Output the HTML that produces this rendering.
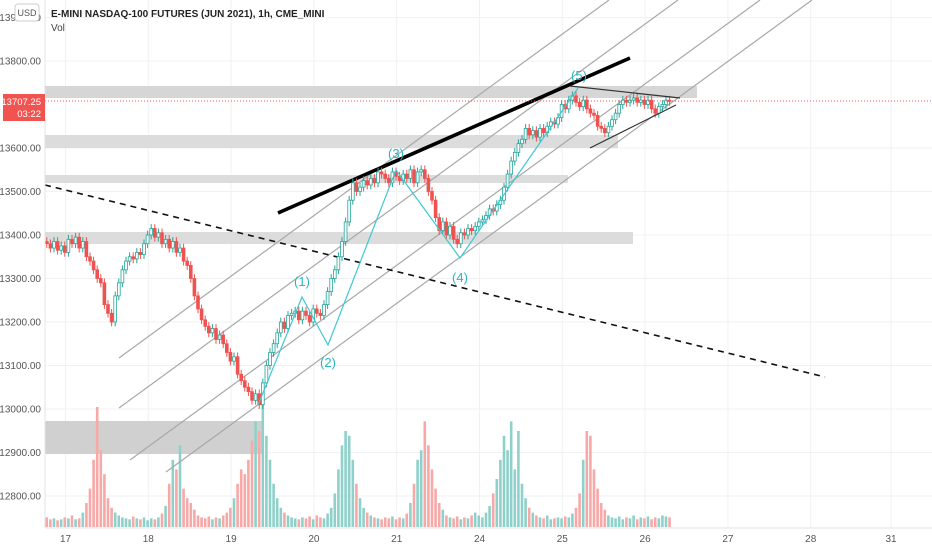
<!DOCTYPE html>
<html><head><meta charset="utf-8"><style>
html,body{margin:0;padding:0;background:#fff;}
svg{display:block;font-family:"Liberation Sans",sans-serif;}
</style></head><body>
<svg id="chart" width="932" height="550" viewBox="0 0 932 550">
<rect x="0" y="0" width="932" height="550" fill="#fff"/>
<g id="grid"></g>
<g id="zones">
<rect x="45" y="86" width="652" height="12" fill="#d6d6d6"/>
<rect x="45" y="135" width="573" height="13" fill="#dcdcdc"/>
<rect x="45" y="175" width="523" height="8" fill="#dcdcdc"/>
<rect x="45" y="232" width="588" height="12" fill="#dcdcdc"/>
<rect x="45" y="421" width="218" height="33" fill="#d0d0d0"/>
</g>
<g id="vol"></g>
<g id="channel" stroke="#a8a8a8" stroke-width="1.2">
<line x1="119" y1="358" x2="609" y2="0"/>
<line x1="119" y1="408" x2="678" y2="0"/>
<line x1="130" y1="460" x2="760" y2="0"/>
<line x1="166" y1="472" x2="812" y2="0"/>
</g>
<line x1="45" y1="185" x2="825" y2="377" stroke="#111" stroke-width="1.6" stroke-dasharray="6,5"/>
<line x1="278" y1="213" x2="630" y2="58" stroke="#000" stroke-width="3.6"/>
<g id="candles"></g>
<line x1="45" y1="101" x2="932" y2="101" stroke="#f05350" stroke-width="1" stroke-dasharray="1,2"/>
<g stroke="#333" stroke-width="1.2">
<line x1="570" y1="86" x2="680" y2="98"/>
<line x1="590" y1="148" x2="676" y2="105"/>
</g>
<polyline points="258,405 302,297 328,345 396,170 460,258 578,88" fill="none" stroke="#3cc8d4" stroke-width="1.2"/>
<g fill="#2bb5c2" font-size="13" text-anchor="middle">
<text x="302" y="286">(1)</text>
<text x="328" y="367">(2)</text>
<text x="396" y="158">(3)</text>
<text x="460" y="282">(4)</text>
<text x="579" y="80">(5)</text>
</g>
<line x1="45" y1="0" x2="45" y2="528" stroke="#e0e3eb"/>
<line x1="45" y1="528" x2="932" y2="528" stroke="#e0e3eb"/>
<g id="yticks" font-size="10" fill="#555" text-anchor="end"></g>
<g id="xticks" font-size="10" fill="#555" text-anchor="middle"></g>
<rect x="15" y="4" width="24" height="17" rx="3" fill="#fff" stroke="#ccc"/>
<text x="27" y="16" font-size="9" fill="#555" text-anchor="middle">USD</text>
<text x="51" y="17" font-size="10" font-weight="bold" fill="#222">E-MINI NASDAQ-100 FUTURES (JUN 2021), 1h, CME_MINI</text>
<text x="51" y="31" font-size="10" fill="#444">Vol</text>
<rect x="3" y="94" width="42" height="27" fill="#f05350"/>
<text x="41" y="105" font-size="9.5" fill="#fff" text-anchor="end">13707.25</text>
<text x="41" y="117" font-size="9.5" fill="#fff" text-anchor="end">03:22</text>
</svg>
<script>
const closes=[13380,13370,13385,13365,13375,13360,13390,13380,13395,
13370,13385,13350,13340,13320,13300,13290,
13240,13220,13200,
13260,13290,13320,13340,
13350,13345,13360,13355,13380,13400,13415,
13395,13405,13380,13390,13370,13385,13360,13370,13340,13330,
13300,13260,13230,13205,
13190,13175,13185,13160,13170,13150,
13130,13110,13120,13080,13065,
13050,13040,13020,13035,13010,
13060,13100,13130,13150,13175,
13200,13185,13215,13220,13225,
13205,13225,13215,13200,13230,13220,13215,
13240,13270,13300,13320,13350,13385,
13430,13480,13520,
13500,13510,13525,13515,13530,13520,13545,13540,
13530,13520,13545,13535,13525,13540,13530,13550,13520,13545,13550,
13530,13500,13480,
13440,13410,13430,13400,13420,
13390,13380,13405,
13400,13415,13410,13420,13430,13435,
13445,13460,13455,13470,13480,
13510,13540,13570,13590,13610,
13620,13645,13630,13640,13625,13645,13635,13650,
13660,13655,13670,13700,13690,13710,
13720,13705,13695,13710,13690,13680,13675,
13650,13645,
13635,13650,13665,13680,13700,13710,
13705,13710,13715,13705,13710,13700,13710,
13690,13680,13695,13700,13710,13707];
const volumes=[10,8,9,7,8,10,9,12,8,9,
15,25,40,70,125,80,55,30,20,15,
12,10,9,8,11,9,8,10,7,9,
8,10,14,22,45,70,60,85,40,30,
25,18,12,10,9,11,8,10,9,12,
15,20,30,45,60,55,70,90,110,100,
130,95,70,45,30,20,15,12,10,9,
8,10,9,11,8,12,10,9,14,20,
35,60,85,100,95,70,45,30,20,15,
12,10,9,8,10,9,11,8,10,9,
14,25,45,70,80,110,85,60,40,25,
18,12,10,9,11,8,10,9,12,15,
12,10,15,22,35,50,70,95,80,110,
60,100,45,30,20,15,12,10,9,12,
8,9,10,9,11,10,14,20,35,70,
100,95,60,40,25,18,12,10,9,11,
8,10,9,12,8,10,9,11,8,10,
9,12,11,10];
const priceTicks=[13900,13800,13600,13500,13400,13300,13200,13100,13000,12900,12800];
const dayLabels=["17","18","19","20","21","24","25","26","27","28","31"];
const dayPos=[5.2,28.2,51.2,74.2,97.2,120.2,143.2,166.2,189.2,212.2,234.5];
const NS='http://www.w3.org/2000/svg';
const yP=p=>61+(13800-p)*0.435;
const xI=i=>45+3.6*i+1.8;
const yV=v=>527-v*0.96;
function mk(tag,parent,attrs){const e=document.createElementNS(NS,tag);for(const k in attrs)e.setAttribute(k,attrs[k]);parent.appendChild(e);return e;}
const grid=document.getElementById('grid');
const yt=document.getElementById('yticks');
priceTicks.forEach(p=>{
 const l=mk('line',grid,{x1:45,x2:932,y1:yP(p),y2:yP(p),stroke:'#f0f1f4'});
 
 
 const t=mk('text',yt,{x:41,y:yP(p)+3.5});
 t.textContent=p.toFixed(2);
 
 
});
const xt=document.getElementById('xticks');
dayLabels.forEach((d,k)=>{
 const x=xI(dayPos[k]);
 const l=mk('line',grid,{x1:x,x2:x,y1:0,y2:528,stroke:'#f0f1f4'});
 
 
 const t=mk('text',xt,{x:x,y:542});
 t.textContent=d;
 
 
});
const vg=document.getElementById('vol'),cg=document.getElementById('candles');
closes.forEach((c,i)=>{
 const o=i?closes[i-1]:c+5;
 const up=c>=o;
 const x=xI(i);
 const v=mk('rect',vg,{x:x-1.3,y:yV(volumes[i]),width:2.6,height:527-yV(volumes[i]),fill:up?'#8fd1ca':'#f6a9a7'});
 
 
 const hi=Math.max(o,c)+10,lo=Math.min(o,c)-10;
 const w=mk('line',cg,{x1:x,x2:x,y1:yP(hi),y2:yP(lo),stroke:up?'#26a69a':'#ef5350','stroke-width':1});
 
 
 const top=yP(Math.max(o,c)),h=Math.max(1,yP(Math.min(o,c))-top);
 const b=mk('rect',cg,{x:x-1.4,y:top,width:2.8,height:h,fill:up?'#fff':'#ef5350',stroke:up?'#26a69a':'#ef5350','stroke-width':0.8});
 
 
});
</script>
</body></html>
